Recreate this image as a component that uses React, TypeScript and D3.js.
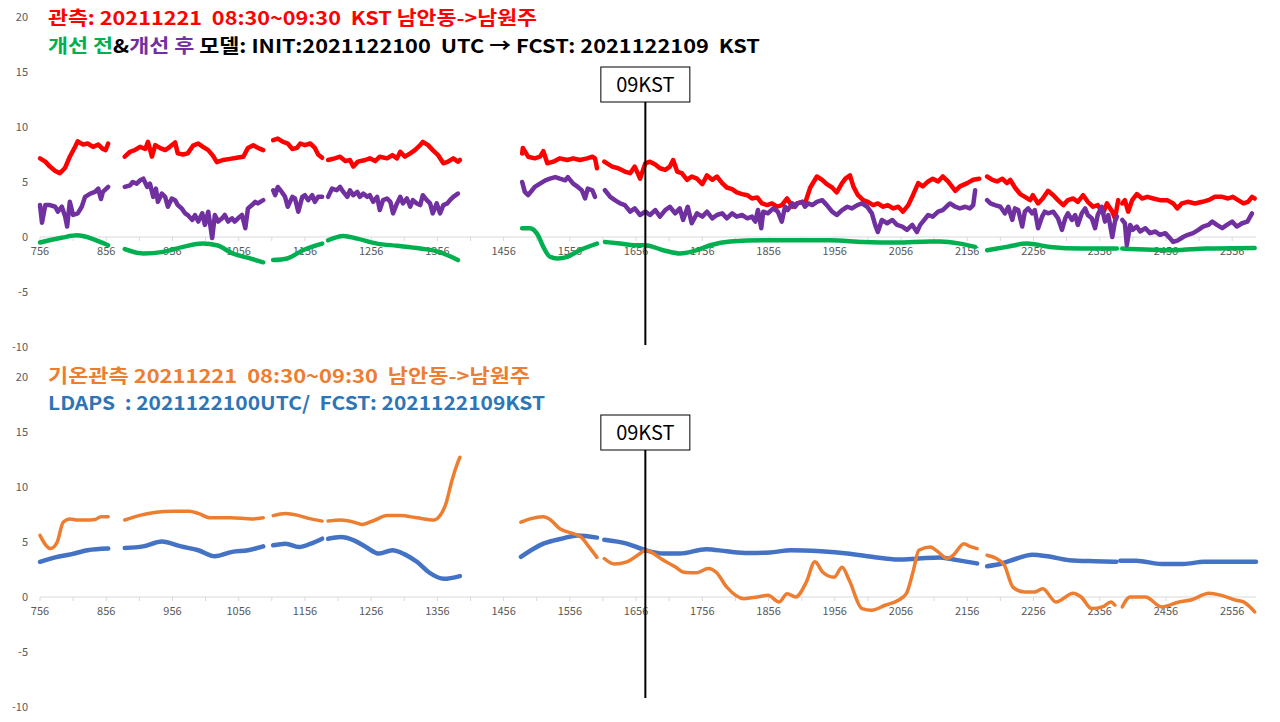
import * as d3 from "d3";
import { useEffect, useRef } from "react";

type Pt = [number, number];

// category labels on the x axis (every 100th row)
const xTicks = [756, 856, 956, 1056, 1156, 1256, 1356, 1456, 1556, 1656, 1756, 1856, 1956, 2056, 2156, 2256, 2356, 2456, 2556];
const yTicks = [20, 15, 10, 5, 0, -5, -10];
const markerAt = 1670;
const markerLabel = "09KST";

// top panel: observed (red), before (green), after (purple)
const obsWind: Pt[][] = [
    [[756, 7.15], [764, 6.85], [771, 6.4], [779, 6.0], [786, 5.8], [794, 6.3], [801, 7.3], [809, 8.2], [813, 8.7], [821, 8.4], [828, 8.5], [836, 8.2], [844, 8.4], [851, 8.0], [855, 7.9], [859, 8.5]],
    [[884, 7.3], [892, 7.75], [899, 7.9], [907, 8.2], [915, 8.0], [919, 8.65], [925, 7.3], [930, 8.35], [937, 8.1], [945, 7.9], [952, 8.2], [960, 8.6], [964, 7.6], [972, 7.5], [979, 7.6], [987, 8.3], [995, 8.5], [1002, 8.2], [1010, 7.9], [1017, 7.4], [1023, 6.8], [1032, 7.0], [1043, 7.1], [1053, 7.2], [1063, 7.3], [1070, 8.1], [1078, 8.35], [1085, 8.1], [1093, 7.9]],
    [[1108, 8.8], [1115, 8.95], [1123, 8.65], [1130, 8.5], [1137, 8.0], [1144, 8.1], [1149, 8.5], [1156, 8.35], [1164, 8.5], [1171, 8.1], [1176, 7.5], [1182, 7.2]],
    [[1191, 7.0], [1201, 7.15], [1209, 7.3], [1217, 6.9], [1224, 7.0], [1229, 6.4], [1236, 6.85], [1247, 7.0], [1254, 7.15], [1262, 6.9], [1269, 7.3], [1280, 7.15], [1288, 7.45], [1295, 7.15], [1300, 7.75], [1307, 7.3], [1315, 7.6], [1322, 7.9], [1330, 8.35], [1334, 8.65], [1342, 8.35], [1349, 7.9], [1357, 7.45], [1365, 6.7], [1372, 6.85], [1380, 7.15], [1387, 6.85], [1390, 7.0]],
    [[1484, 7.6], [1485, 8.1], [1493, 7.3], [1503, 7.15], [1511, 7.3], [1516, 7.8], [1522, 6.7], [1531, 6.85], [1541, 7.15], [1552, 7.0], [1561, 7.15], [1571, 7.0], [1582, 7.15], [1590, 7.3], [1594, 7.15], [1597, 6.25]],
    [[1608, 6.85], [1620, 6.4], [1629, 6.25], [1639, 5.95], [1647, 5.8], [1654, 6.4], [1662, 5.3], [1670, 6.7], [1677, 6.85], [1685, 6.6], [1692, 6.25], [1700, 6.1], [1707, 6.4], [1712, 7.0], [1718, 5.95], [1725, 5.8], [1733, 5.2], [1740, 5.5], [1748, 5.3], [1756, 4.8], [1763, 5.6], [1771, 5.2], [1778, 5.5], [1786, 4.9], [1793, 4.5], [1801, 4.35], [1808, 4.05], [1816, 3.9], [1824, 3.8], [1831, 3.5], [1839, 3.6], [1846, 3.05], [1854, 2.9], [1861, 3.05], [1869, 2.75], [1876, 2.9], [1884, 3.5], [1892, 2.75], [1899, 3.05], [1907, 3.2], [1911, 3.05], [1919, 4.5], [1929, 5.5], [1937, 5.2], [1944, 4.8], [1952, 4.5], [1959, 4.05], [1967, 4.9], [1972, 5.3], [1979, 5.6], [1984, 4.6], [1991, 3.8], [1999, 3.35], [2006, 3.2], [2014, 2.9], [2021, 3.05], [2029, 2.75], [2036, 2.9], [2044, 2.6], [2052, 2.75], [2059, 2.3], [2067, 2.9], [2074, 3.8], [2082, 4.9], [2089, 4.6], [2097, 5.05], [2104, 5.3], [2112, 5.05], [2119, 5.5], [2127, 5.05], [2138, 4.2], [2145, 4.6], [2156, 4.9], [2165, 5.2], [2174, 5.3]],
    [[2186, 5.5], [2194, 5.2], [2201, 5.05], [2209, 5.3], [2216, 4.9], [2221, 5.2], [2228, 4.5], [2236, 3.9], [2243, 3.65], [2251, 3.35], [2255, 3.8], [2263, 3.05], [2270, 3.5], [2278, 4.2], [2286, 3.8], [2293, 3.35], [2301, 2.9], [2308, 3.35], [2316, 3.5], [2323, 3.2], [2331, 3.8], [2338, 3.2], [2346, 2.75], [2353, 2.9], [2361, 2.15], [2367, 3.05], [2375, 2.3], [2379, 1.7], [2384, 3.35]],
    [[2390, 3.05], [2394, 3.35], [2399, 2.3], [2405, 3.35], [2412, 3.9], [2420, 3.5], [2428, 3.65], [2437, 3.5], [2447, 3.35], [2458, 3.35], [2467, 3.05], [2473, 2.6], [2480, 3.05], [2489, 3.2], [2500, 3.05], [2511, 3.2], [2520, 3.35], [2530, 3.65], [2541, 3.65], [2550, 3.5], [2557, 3.65], [2565, 3.35], [2573, 3.05], [2580, 3.2], [2586, 3.65], [2590, 3.5]],
];

const afterWind: Pt[][] = [
    [[756, 2.9], [759, 1.3], [764, 2.9], [771, 2.9], [779, 2.75], [783, 2.3], [789, 2.75], [794, 1.85], [797, 0.95], [801, 3.2], [806, 2.0], [813, 2.15], [819, 2.75], [824, 3.65], [832, 3.95], [839, 4.1], [844, 4.4], [848, 3.45], [851, 4.1], [859, 4.55]],
    [[884, 4.55], [892, 4.7], [896, 5.0], [902, 4.85], [907, 5.15], [912, 5.3], [918, 4.55], [922, 4.85], [927, 3.65], [931, 4.4], [934, 3.2], [940, 3.95], [945, 3.65], [949, 2.75], [955, 3.5], [960, 3.35], [964, 2.9], [970, 2.6], [975, 2.15], [979, 2.0], [986, 1.55], [990, 2.0], [995, 1.4], [1001, 2.15], [1005, 1.1], [1010, 2.3], [1016, -0.1], [1020, 2.0], [1025, 1.4], [1031, 1.7], [1035, 2.0], [1040, 1.4], [1046, 1.7], [1050, 1.4], [1055, 1.7], [1061, 2.0], [1066, 0.8], [1070, 2.6], [1076, 2.9], [1081, 3.2], [1085, 3.05], [1093, 3.35]],
    [[1108, 4.25], [1111, 3.8], [1115, 4.55], [1121, 4.1], [1126, 3.65], [1130, 2.75], [1137, 3.65], [1141, 3.5], [1146, 2.3], [1152, 3.65], [1156, 3.8], [1161, 3.35], [1167, 3.8], [1171, 3.2], [1176, 3.65], [1182, 3.65]],
    [[1191, 3.65], [1197, 4.4], [1204, 4.25], [1209, 4.55], [1214, 4.1], [1220, 3.65], [1224, 4.25], [1229, 3.8], [1235, 4.1], [1239, 3.65], [1244, 3.95], [1250, 3.65], [1254, 3.8], [1259, 3.2], [1265, 3.65], [1269, 2.45], [1274, 3.35], [1280, 3.5], [1285, 3.2], [1289, 2.15], [1295, 3.05], [1300, 3.65], [1304, 3.05], [1310, 3.5], [1315, 2.75], [1319, 3.35], [1325, 3.05], [1330, 2.9], [1334, 3.8], [1340, 3.35], [1345, 3.05], [1349, 2.15], [1355, 3.05], [1360, 2.15], [1365, 2.9], [1371, 3.05], [1375, 3.35], [1380, 3.65], [1387, 3.95]],
    [[1484, 5.0], [1488, 4.1], [1493, 3.8], [1499, 4.25], [1503, 4.55], [1511, 4.85], [1519, 5.15], [1526, 5.3], [1534, 5.45], [1541, 5.3], [1549, 5.15], [1553, 5.45], [1561, 4.85], [1568, 4.55], [1574, 4.25], [1579, 3.5], [1583, 4.4], [1590, 4.25], [1594, 3.65]],
    [[1609, 4.25], [1617, 3.65], [1624, 3.35], [1632, 3.05], [1639, 2.9], [1647, 2.3], [1654, 2.6], [1662, 2.0], [1670, 2.3], [1677, 2.0], [1685, 2.45], [1692, 1.85], [1700, 2.45], [1707, 2.75], [1715, 2.15], [1722, 2.6], [1727, 1.55], [1734, 2.75], [1740, 1.25], [1748, 2.15], [1756, 1.85], [1763, 2.3], [1771, 1.7], [1778, 2.0], [1786, 2.15], [1793, 1.7], [1801, 2.15], [1808, 1.85], [1816, 2.0], [1824, 1.7], [1831, 1.85], [1836, 1.4], [1840, 2.45], [1845, 0.8], [1848, 2.3], [1855, 2.15], [1863, 2.6], [1870, 2.3], [1876, 1.4], [1881, 2.75], [1885, 2.45], [1892, 3.05], [1896, 2.75], [1900, 3.05], [1907, 3.2], [1911, 2.75], [1916, 3.05], [1922, 2.9], [1929, 3.2], [1937, 3.35], [1944, 2.9], [1952, 2.3], [1959, 2.0], [1967, 2.45], [1975, 2.75], [1982, 2.6], [1990, 2.9], [1997, 3.05], [2005, 2.75], [2012, 2.15], [2017, 1.1], [2021, 0.45], [2027, 1.55], [2035, 1.25], [2043, 1.55], [2050, 1.1], [2058, 0.95], [2065, 0.65], [2073, 1.1], [2080, 0.45], [2085, 1.1], [2089, 1.4], [2097, 2.0], [2104, 1.85], [2112, 2.3], [2119, 2.45], [2127, 2.9], [2130, 3.05], [2138, 2.75], [2145, 2.6], [2153, 2.75], [2160, 2.6], [2165, 2.9], [2168, 4.25]],
    [[2186, 3.35], [2191, 3.05], [2198, 2.9], [2206, 2.75], [2213, 2.15], [2218, 2.75], [2224, 1.55], [2228, 2.6], [2233, 2.45], [2239, 0.95], [2243, 2.3], [2248, 2.6], [2254, 2.15], [2258, 2.45], [2263, 0.8], [2269, 1.85], [2273, 2.3], [2278, 2.15], [2286, 2.3], [2293, 1.7], [2299, 0.65], [2304, 1.7], [2308, 2.15], [2314, 1.55], [2319, 2.0], [2323, 1.1], [2329, 2.15], [2334, 2.6], [2338, 2.0], [2344, 1.7], [2349, 0.8], [2353, 2.0], [2359, 2.75], [2364, 1.4], [2369, 2.0], [2375, 0.0], [2379, 1.4], [2382, 1.85]],
    [[2390, 1.55], [2394, 1.25], [2397, -0.75], [2402, 1.1], [2406, 0.65], [2412, 0.95], [2417, 0.5], [2425, 0.8], [2432, 0.35], [2440, 0.5], [2447, 0.2], [2455, 0.35], [2462, -0.1], [2467, -0.45], [2474, -0.3], [2482, 0.0], [2489, 0.2], [2497, 0.35], [2505, 0.65], [2512, 0.95], [2520, 1.1], [2526, 1.4], [2533, 1.1], [2541, 0.8], [2548, 1.1], [2556, 1.4], [2563, 0.95], [2571, 1.25], [2579, 1.4], [2586, 2.15]],
];

const beforeWind: Pt[][] = [
    [[756, -0.5], [770, -0.3], [790, -0.05], [812, 0.15], [832, -0.1], [845, -0.4], [859, -0.75]],
    [[884, -1.1], [912, -1.5], [942, -1.35], [972, -0.9], [1002, -0.6], [1023, -0.75], [1047, -1.5], [1073, -1.95], [1093, -2.3]],
    [[1108, -2.1], [1129, -1.95], [1153, -1.2], [1182, -0.6]],
    [[1191, -0.3], [1214, 0.1], [1235, -0.15], [1265, -0.6], [1295, -0.8], [1330, -1.05], [1355, -1.3], [1375, -1.75], [1387, -2.1]],
    [[1484, 0.8], [1496, 0.8], [1508, 0.15], [1516, -0.9], [1526, -1.8], [1537, -1.95], [1552, -1.8], [1571, -1.2], [1597, -0.6]],
    [[1609, -0.45], [1632, -0.6], [1654, -0.75], [1670, -0.75], [1697, -1.2], [1722, -1.5], [1748, -1.2], [1768, -0.75], [1798, -0.4], [1848, -0.3], [1899, -0.3], [1949, -0.3], [1999, -0.45], [2050, -0.5], [2100, -0.4], [2115, -0.4], [2145, -0.6], [2168, -0.9]],
    [[2186, -1.2], [2216, -0.9], [2246, -0.6], [2281, -0.9], [2328, -1.05], [2382, -1.05]],
    [[2390, -1.05], [2467, -1.2], [2518, -1.05], [2590, -1.0]],
];

// bottom panel: observed temperature (orange), LDAPS (blue)
const obsTemp: Pt[][] = [
    [[756, 5.6], [765, 4.7], [772, 4.4], [782, 5.0], [791, 6.8], [801, 7.1], [813, 7.0], [825, 7.0], [839, 7.05], [848, 7.3], [859, 7.3]],
    [[884, 7.0], [905, 7.4], [931, 7.7], [957, 7.8], [981, 7.8], [995, 7.6], [1013, 7.2], [1044, 7.2], [1076, 7.1], [1093, 7.2]],
    [[1108, 7.4], [1127, 7.6], [1147, 7.4], [1165, 7.1], [1182, 6.9]],
    [[1191, 6.9], [1210, 7.0], [1230, 6.8], [1242, 6.6], [1262, 7.0], [1280, 7.4], [1300, 7.4], [1325, 7.2], [1351, 7.0], [1360, 7.4], [1369, 8.5], [1378, 10.6], [1386, 12.1], [1390, 12.7]],
    [[1482, 6.8], [1496, 7.1], [1516, 7.3], [1525, 7.1], [1541, 6.2], [1559, 5.8], [1573, 5.45], [1585, 4.55], [1597, 3.6]],
    [[1608, 3.5], [1623, 3.0], [1642, 3.2], [1662, 3.95], [1670, 4.25], [1697, 3.35], [1716, 2.7], [1728, 2.25], [1748, 2.2], [1765, 2.6], [1777, 2.25], [1793, 0.9], [1819, -0.15], [1839, 0.0], [1855, 0.15], [1872, -0.45], [1884, 0.3], [1897, 0.0], [1913, 1.35], [1926, 3.2], [1938, 2.25], [1955, 1.8], [1967, 2.7], [1978, 1.5], [1997, -1.05], [2012, -1.2], [2032, -0.75], [2052, -0.3], [2064, 0.3], [2074, 2.25], [2083, 4.25], [2100, 4.55], [2112, 4.1], [2126, 3.5], [2135, 3.8], [2151, 4.85], [2160, 4.6], [2171, 4.4]],
    [[2186, 3.8], [2200, 3.5], [2212, 2.9], [2225, 0.9], [2242, 0.45], [2257, 0.45], [2270, 0.75], [2290, -0.45], [2316, 0.35], [2328, 0.0], [2344, -1.05], [2360, -0.9], [2373, -0.45], [2379, -0.75]],
    [[2390, -0.9], [2402, 0.0], [2425, 0.0], [2450, -0.9], [2476, -0.45], [2495, -0.25], [2521, 0.35], [2540, 0.15], [2562, -0.3], [2573, -0.45], [2590, -1.35]],
];

const ldapsTemp: Pt[][] = [
    [[756, 3.2], [779, 3.6], [804, 3.9], [828, 4.25], [859, 4.4]],
    [[884, 4.45], [912, 4.6], [940, 5.05], [969, 4.6], [995, 4.25], [1020, 3.7], [1046, 4.1], [1070, 4.25], [1093, 4.6]],
    [[1108, 4.7], [1127, 4.85], [1147, 4.55], [1165, 4.85], [1182, 5.3]],
    [[1191, 5.3], [1210, 5.45], [1230, 5.15], [1248, 4.55], [1268, 3.95], [1288, 4.25], [1306, 3.9], [1325, 3.2], [1343, 2.25], [1366, 1.65], [1390, 1.9]],
    [[1482, 3.65], [1516, 4.85], [1547, 5.35], [1567, 5.6], [1597, 5.4]],
    [[1608, 5.2], [1642, 4.85], [1668, 4.3], [1697, 3.95], [1722, 3.95], [1762, 4.35], [1793, 4.15], [1825, 4.0], [1858, 4.05], [1890, 4.25], [1935, 4.15], [1975, 3.95], [2012, 3.65], [2052, 3.4], [2083, 3.5], [2115, 3.6], [2141, 3.35], [2171, 3.05]],
    [[2186, 2.8], [2206, 3.0], [2231, 3.5], [2254, 3.85], [2278, 3.7], [2310, 3.35], [2349, 3.25], [2381, 3.2]],
    [[2387, 3.3], [2411, 3.3], [2450, 3.0], [2482, 3.0], [2514, 3.2], [2547, 3.2], [2592, 3.2]],
];

const topTitle1 = [{ t: "관측: 20211221  08:30~09:30  KST 남안동->남원주", c: "#ff0000" }];
const topTitle2 = [
    { t: "개선 전", c: "#00b050" },
    { t: "&", c: "#000000" },
    { t: "개선 후", c: "#7030a0" },
    { t: " 모델: INIT:2021122100  UTC → FCST: 2021122109  KST", c: "#000000" },
];
const botTitle1 = [{ t: "기온관측 20211221  08:30~09:30  남안동->남원주", c: "#ed7d31" }];
const botTitle2 = [{ t: "LDAPS  : 2021122100UTC/  FCST: 2021122109KST", c: "#2e75b6" }];

const FONT = "'Noto Sans CJK KR', 'Noto Sans', sans-serif";

export default function App() {
    const svgRef = useRef<SVGSVGElement>(null);

    useEffect(() => {
        if (svgRef.current) drawChart();
    }, []);

    const drawChart = () => {
        const svg = d3.select(svgRef.current);
        svg.selectAll("*").remove();
        svg.append("rect").attr("width", 1280).attr("height", 722).attr("fill", "#ffffff");

        const scaleX = d3.scaleLinear().domain([756, 2592]).range([40, 1256]);

        drawPanel(svg, scaleX, [347, 17], [67, 102, 345],
            [
                { data: obsWind, color: "#ff0000", width: 4.5, smooth: false },
                { data: beforeWind, color: "#00b050", width: 4.5, smooth: true },
                { data: afterWind, color: "#7030a0", width: 4.5, smooth: false },
            ],
            [
                { parts: topTitle1, y: 25, len: 489 },
                { parts: topTitle2, y: 53, len: 712 },
            ]);

        drawPanel(svg, scaleX, [707, 377], [415, 450, 698],
            [
                { data: ldapsTemp, color: "#4472c4", width: 4.5, smooth: true },
                { data: obsTemp, color: "#ed7d31", width: 3.5, smooth: true },
            ],
            [
                { parts: botTitle1, y: 383, len: 482 },
                { parts: botTitle2, y: 410, len: 497 },
            ]);
    };

    const drawPanel = (svg: any, scaleX: any, yRange: number[], marker: number[], series: any[], titles: any[]) => {
        const scaleY = d3.scaleLinear().domain([-10, 20]).range(yRange);
        const g = svg.append("g");

        // y labels (no axis line)
        g.selectAll("text.ylab")
            .data(yTicks)
            .join("text")
            .attr("class", "ylab")
            .attr("x", 28)
            .attr("y", (d: number) => scaleY(d))
            .attr("dy", "0.35em")
            .attr("text-anchor", "end")
            .attr("font-family", FONT)
            .attr("font-size", 11)
            .attr("fill", "#595959")
            .text((d: number) => `${d}`);

        // x axis on zero line
        const y0 = scaleY(0);
        g.append("line")
            .attr("x1", scaleX(756)).attr("x2", scaleX(2592))
            .attr("y1", y0).attr("y2", y0)
            .attr("stroke", "#d9d9d9").attr("stroke-width", 1);
        g.selectAll("line.tick")
            .data(d3.range(756, 2592, 50))
            .join("line")
            .attr("class", "tick")
            .attr("x1", (d: number) => scaleX(d)).attr("x2", (d: number) => scaleX(d))
            .attr("y1", y0).attr("y2", y0 + 4)
            .attr("stroke", "#d9d9d9");
        g.selectAll("text.xlab")
            .data(xTicks)
            .join("text")
            .attr("class", "xlab")
            .attr("x", (d: number) => scaleX(d))
            .attr("y", y0 + 18)
            .attr("text-anchor", "middle")
            .attr("font-family", FONT)
            .attr("font-size", 11)
            .attr("fill", "#595959")
            .text((d: number) => `${d}`);

        // series, each split in segments at the data gaps
        for (const s of series) {
            const line = d3.line<Pt>()
                .x((d) => scaleX(d[0]))
                .y((d) => scaleY(d[1]))
                .curve(s.smooth ? d3.curveMonotoneX : d3.curveLinear);
            g.append("g")
                .selectAll("path")
                .data(s.data)
                .join("path")
                .attr("d", (d: Pt[]) => line(d))
                .attr("fill", "none")
                .attr("stroke", s.color)
                .attr("stroke-width", s.width)
                .attr("stroke-linejoin", "round")
                .attr("stroke-linecap", "round");
        }

        // 09KST marker
        const mx = scaleX(markerAt);
        g.append("line")
            .attr("x1", mx).attr("x2", mx)
            .attr("y1", marker[1]).attr("y2", marker[2])
            .attr("stroke", "#000").attr("stroke-width", 2);
        g.append("rect")
            .attr("x", mx - 44.5).attr("y", marker[0])
            .attr("width", 89).attr("height", marker[1] - marker[0])
            .attr("fill", "#fff").attr("stroke", "#000").attr("stroke-width", 1);
        g.append("text")
            .attr("x", mx).attr("y", (marker[0] + marker[1]) / 2)
            .attr("dy", "0.36em")
            .attr("text-anchor", "middle")
            .attr("font-family", FONT)
            .attr("font-size", 20)
            .attr("fill", "#000")
            .text(markerLabel);

        // titles
        for (const t of titles) {
            const txt = g.append("text")
                .attr("x", 48).attr("y", t.y)
                .attr("font-family", FONT)
                .attr("font-size", 19)
                .attr("font-weight", "bold")
                .attr("textLength", t.len)
                .attr("lengthAdjust", "spacingAndGlyphs")
                .style("white-space", "pre");
            for (const p of t.parts) {
                txt.append("tspan").attr("fill", p.c).text(p.t);
            }
        }
    };

    return (
        <svg
            ref={svgRef}
            width={1280}
            height={722}
            style={{ position: "absolute", left: 0, top: 0 }}
        />
    );
}
